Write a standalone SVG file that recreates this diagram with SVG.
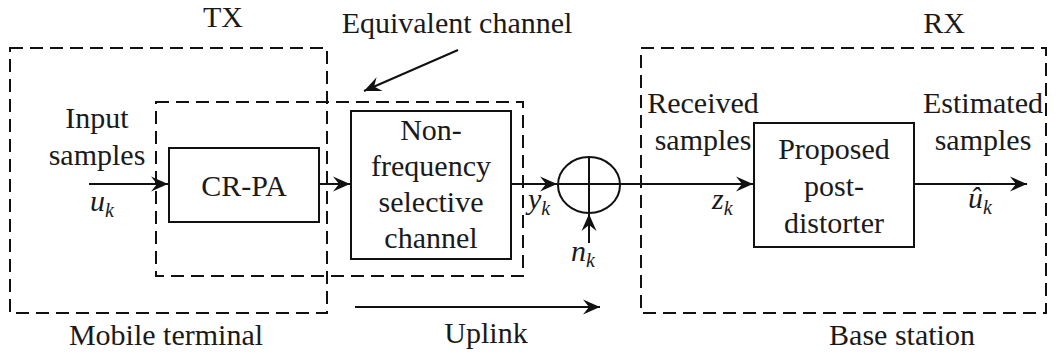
<svg xmlns="http://www.w3.org/2000/svg" width="1056" height="354" viewBox="0 0 1056 354" font-family="Liberation Serif, DejaVu Serif, serif" font-size="30">
<style>
  text { fill: #1a1a1a; }
  .t { text-anchor: middle; }
  .m { font-style: italic; }
  .s { font-size: 20px; }
  .dash { fill: none; stroke: #111; stroke-width: 2; stroke-dasharray: 13 7; }
  .box { fill: #fff; stroke: #111; stroke-width: 2; }
  .ln { fill: none; stroke: #111; stroke-width: 2; }
</style>
<defs>
  <marker id="ah" markerUnits="userSpaceOnUse" markerWidth="20" markerHeight="18" refX="0" refY="0" viewBox="-18 -9 20 18" orient="auto">
    <path d="M0,0 L-17,-7.5 L-11,0 L-17,7.5 Z" fill="#111"/>
  </marker>
</defs>
<rect width="1056" height="354" fill="#fff"/>

<g id="tx-region">
  <rect class="dash" x="10" y="48" width="317" height="265"/>
  <text class="t" x="223" y="27" font-family="Liberation Serif">TX</text>
  <text class="t" x="166" y="345">Mobile terminal</text>
</g>
<g id="rx-region">
  <rect class="dash" x="641" y="48" width="405" height="265"/>
  <text class="t" x="944" y="33">RX</text>
  <text class="t" x="902" y="345">Base station</text>
</g>
<g id="equivalent-channel">
  <rect class="dash" x="156" y="102" width="367" height="174"/>
  <text class="t" x="457" y="33">Equivalent channel</text>
</g>

<g id="cr-pa">
  <rect class="box" x="169" y="148" width="150" height="74"/>
  <text class="t" x="244" y="196">CR-PA</text>
</g>
<g id="channel">
  <rect class="box" x="351" y="111" width="160" height="148"/>
  <text class="t" x="431" y="140">Non-</text>
  <text class="t" x="431" y="176">frequency</text>
  <text class="t" x="431" y="212">selective</text>
  <text class="t" x="431" y="248">channel</text>
</g>
<g id="adder">
  <ellipse class="ln" cx="589" cy="185" rx="31" ry="28"/>
  <line class="ln" x1="589" y1="157" x2="589" y2="213"/>
  <line class="ln" x1="558" y1="184" x2="620" y2="184"/>
</g>
<g id="post-distorter">
  <rect class="box" x="754" y="123" width="160" height="124"/>
  <text class="t" x="834" y="159">Proposed</text>
  <text class="t" x="834" y="196">post-</text>
  <text class="t" x="834" y="233">distorter</text>
</g>

<g id="connectors">
  <line class="ln" x1="89" y1="184" x2="168" y2="184" marker-end="url(#ah)"/>
  <line class="ln" x1="319" y1="184" x2="350" y2="184" marker-end="url(#ah)"/>
  <line class="ln" x1="511" y1="184" x2="557" y2="184" marker-end="url(#ah)"/>
  <line class="ln" x1="620" y1="184" x2="753" y2="184" marker-end="url(#ah)"/>
  <line class="ln" x1="914" y1="184" x2="1027" y2="184" marker-end="url(#ah)"/>
  <line class="ln" x1="589" y1="243" x2="589" y2="214" marker-end="url(#ah)"/>
  <line class="ln" x1="458" y1="50" x2="364" y2="91" marker-end="url(#ah)"/>
  <line class="ln" x1="355" y1="307" x2="600" y2="307" marker-end="url(#ah)"/>
</g>

<g id="labels">
  <text class="t" x="97" y="128">Input</text>
  <text class="t" x="97" y="165">samples</text>
  <text class="m" x="90" y="211">u<tspan class="s" dy="6">k</tspan></text>
  <text class="m" x="528" y="209">y<tspan class="s" dy="6">k</tspan></text>
  <text class="m" x="571" y="261">n<tspan class="s" dy="6">k</tspan></text>
  <text class="t" x="703" y="113">Received</text>
  <text class="t" x="703" y="150">samples</text>
  <text class="m" x="712" y="209">z<tspan class="s" dy="6">k</tspan></text>
  <text class="t" x="983" y="113">Estimated</text>
  <text class="t" x="983" y="150">samples</text>
  <text class="m" x="968" y="208">û<tspan class="s" dy="6">k</tspan></text>
  <text class="t" x="486" y="343">Uplink</text>
</g>
</svg>
